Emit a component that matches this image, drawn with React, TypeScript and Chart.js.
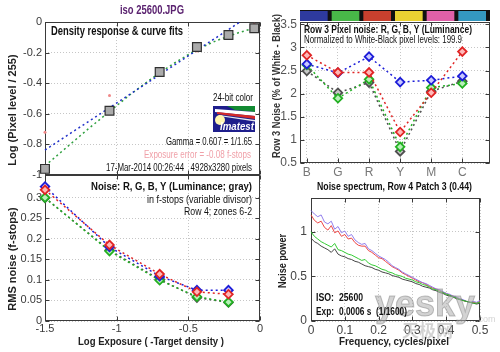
import React, { useEffect, useRef } from 'react';
import { Chart, registerables } from 'chart.js';

Chart.register(...registerables);

const W = 500;
const H = 352;
const FONT = '"Liberation Sans", Arial, Helvetica, sans-serif';

// ---------- Density response (top-left) ----------
const densityLogExposure = [-1.5, -1.05, -0.7, -0.44, -0.22, -0.04];
const densityLogPixel = [-0.96, -0.58, -0.327, -0.163, -0.085, -0.041];
const exposureMarkX = [-1.5, -1.05, -0.44, -0.04];
const exposureMarkY = [-0.72, -0.48, -0.19, -0.015];
const gammaFitX = [-1.5, -0.14];
const gammaFitY = [-0.837, 0];
const curveFitX = [-1.5, -1.35, -1.2, -1.05, -0.9, -0.75, -0.6, -0.45, -0.3, -0.15, -0.04];
const curveFitY = [-0.94, -0.82, -0.7, -0.585, -0.47, -0.365, -0.27, -0.185, -0.12, -0.07, -0.04];
const densityTicksY = [-1, -0.8, -0.6, -0.4, -0.2, 0];
const exposureTicks = [-1.5, -1, -0.5, 0];

// ---------- RMS noise in f-stops (bottom-left) ----------
const noiseLogExposure = [-1.5, -1.05, -0.7, -0.44, -0.22];
const noiseR = [0.319, 0.185, 0.114, 0.071, 0.065];
const noiseG = [0.3, 0.17, 0.099, 0.059, 0.046];
const noiseB = [0.327, 0.18, 0.109, 0.075, 0.075];
const noiseY = [0.299, 0.172, 0.101, 0.057, 0.045];
const noiseTicksY = [0, 0.05, 0.1, 0.15, 0.2, 0.25, 0.3];

// ---------- Row 3 pixel noise (top-right) ----------
const patchNames = ['B', 'G', 'R', 'Y', 'M', 'C'];
const patchSwatches = ['#2e3a9e', '#48b848', '#c8402e', '#ead232', '#e060a8', '#3498c0'];
const patchR = [2.83, 2.46, 2.46, 1.17, 2.02, 2.91];
const patchG = [2.62, 1.9, 2.31, 0.85, 2.13, 2.22];
const patchB = [2.64, 2.45, 2.8, 2.25, 2.29, 2.38];
const patchY = [2.49, 2.02, 2.24, 0.75, 2.05, 2.27];
const patchTicksY = [0.5, 1, 1.5, 2, 2.5, 3, 3.5];

// ---------- Noise spectrum (bottom-right) ----------
const spectrumFreq = [
  0, 0.01, 0.02, 0.03, 0.04, 0.05, 0.06, 0.07, 0.08, 0.09,
  0.1, 0.11, 0.12, 0.13, 0.14, 0.15, 0.16, 0.17, 0.18, 0.19,
  0.2, 0.21, 0.22, 0.23, 0.24, 0.25, 0.26, 0.27, 0.28, 0.29,
  0.3, 0.31, 0.32, 0.33, 0.34, 0.35, 0.36, 0.37, 0.38, 0.39,
  0.4, 0.41, 0.42, 0.43, 0.44, 0.45, 0.46, 0.47, 0.48, 0.49,
  0.5,
];
const spectrumB = [
  1.24, 1.2, 1.17, 1.19, 1.11, 1.09, 1.12, 1.03, 1.06, 0.99,
  1.01, 0.95, 0.97, 0.91, 0.88, 0.86, 0.87, 0.81, 0.79, 0.76,
  0.73, 0.71, 0.69, 0.66, 0.62, 0.6, 0.58, 0.55, 0.53, 0.51,
  0.49, 0.47, 0.45, 0.43, 0.42, 0.4, 0.38, 0.36, 0.35, 0.33,
  0.31, 0.3, 0.28, 0.27, 0.25, 0.24, 0.22, 0.21, 0.22, 0.21,
  0.23,
];
const spectrumR = [
  1.19, 1.13, 1.1, 1.12, 1.05, 1.02, 1.07, 0.99, 1.01, 0.95,
  0.97, 0.92, 0.93, 0.88, 0.85, 0.84, 0.84, 0.79, 0.77, 0.74,
  0.71, 0.7, 0.67, 0.64, 0.61, 0.59, 0.57, 0.54, 0.52, 0.5,
  0.48, 0.46, 0.44, 0.43, 0.41, 0.39, 0.37, 0.36, 0.34, 0.32,
  0.31, 0.29, 0.28, 0.26, 0.25, 0.23, 0.22, 0.21, 0.21, 0.2,
  0.22,
];
const spectrumG = [
  1.0, 0.95, 0.92, 0.89, 0.87, 0.85, 0.83, 0.87, 0.8, 0.79,
  0.77, 0.75, 0.74, 0.72, 0.7, 0.68, 0.69, 0.65, 0.63, 0.62,
  0.6, 0.58, 0.57, 0.55, 0.54, 0.52, 0.51, 0.5, 0.48, 0.47,
  0.46, 0.44, 0.43, 0.41, 0.4, 0.38, 0.36, 0.35, 0.33, 0.32,
  0.3, 0.29, 0.27, 0.26, 0.24, 0.23, 0.22, 0.21, 0.2, 0.2,
  0.21,
];
const spectrumY = [
  0.93, 0.89, 0.87, 0.84, 0.82, 0.8, 0.77, 0.81, 0.75, 0.73,
  0.72, 0.7, 0.69, 0.67, 0.66, 0.64, 0.62, 0.61, 0.6, 0.58,
  0.57, 0.55, 0.54, 0.53, 0.51, 0.5, 0.49, 0.47, 0.46, 0.45,
  0.44, 0.42, 0.41, 0.39, 0.38, 0.37, 0.35, 0.34, 0.32, 0.31,
  0.29, 0.28, 0.27, 0.25, 0.24, 0.23, 0.22, 0.21, 0.2, 0.19,
  0.2,
];
const spectrumTicksX = [0, 0.1, 0.2, 0.3, 0.4, 0.5];
const spectrumTicksY = [0, 0.5, 1];

// ---------- helpers ----------
const pts = (xs: number[], ys: number[]) => xs.map((x, i) => ({ x, y: ys[i] }));
const fixedTicks = (vals: number[]) => (s: any) => { s.ticks = vals.map((value) => ({ value })); };
const fmt = (v: any) => String(+Number(v).toFixed(3));

const RED = '#e02424';
const GREEN = '#22b022';
const BLUE = '#1c1cd8';
const GRAY = '#505050';

function area(left: number, top: number, right: number, bottom: number, yW: number, xH: number) {
  return { padding: { left: left - yW, top, right: W - right, bottom: H - bottom - xH } };
}

const grid = { color: '#c6c6c6', lineWidth: 1, drawTicks: false };
const border = { display: false, dash: [1, 2] };

type Txt = { t: string; x: number; y: number; f: string; c?: string; a?: CanvasTextAlign; w?: number; r?: boolean };

function drawTexts(ctx: CanvasRenderingContext2D, texts: Txt[]) {
  for (const it of texts) {
    ctx.save();
    ctx.font = it.f;
    ctx.fillStyle = it.c || '#111';
    ctx.textAlign = it.a || 'left';
    ctx.textBaseline = 'middle';
    ctx.translate(it.x, it.y);
    if (it.r) ctx.rotate(-Math.PI / 2);
    if (it.w) ctx.fillText(it.t, 0, 0, it.w);
    else ctx.fillText(it.t, 0, 0);
    ctx.restore();
  }
}

function decor(texts: Txt[], extra?: (ctx: CanvasRenderingContext2D, chart: any) => void) {
  return {
    id: 'decor',
    beforeDatasetsDraw(chart: any) {
      const { ctx, chartArea: a, scales } = chart;
      ctx.save();
      const l = Math.round(a.left) + 0.5;
      const t = Math.round(a.top) + 0.5;
      const r = Math.round(a.right) - 0.5;
      const b = Math.round(a.bottom) - 0.5;
      ctx.strokeStyle = '#3a3a3a';
      ctx.lineWidth = 1;
      ctx.setLineDash([]);
      ctx.strokeRect(l, t, r - l, b - t);
      ctx.beginPath();
      for (const tk of scales.x.ticks) {
        const p = Math.round(scales.x.getPixelForValue(tk.value)) + 0.5;
        ctx.moveTo(p, b); ctx.lineTo(p, b - 4);
        ctx.moveTo(p, t); ctx.lineTo(p, t + 4);
      }
      for (const tk of scales.y.ticks) {
        const p = Math.round(scales.y.getPixelForValue(tk.value)) + 0.5;
        ctx.moveTo(l, p); ctx.lineTo(l + 4, p);
        ctx.moveTo(r, p); ctx.lineTo(r - 4, p);
      }
      ctx.stroke();
      ctx.restore();
    },
    afterDraw(chart: any) {
      const ctx = chart.ctx as CanvasRenderingContext2D;
      ctx.save();
      if (extra) extra(ctx, chart);
      drawTexts(ctx, texts);
      ctx.restore();
    },
  };
}

const baseOptions = (layout: any, scales: any) => ({
  responsive: false,
  animation: false,
  events: [],
  layout,
  plugins: { legend: { display: false }, tooltip: { enabled: false } },
  scales,
});

const tickFont = { family: FONT, size: 11 };

const dotted = (color: string, data: any[], extra: any = {}) => ({
  data,
  showLine: true,
  borderColor: color,
  borderWidth: 1.5,
  borderDash: [2, 3],
  pointRadius: 0,
  clip: false,
  ...extra,
});

const diamonds = (color: string, fill: string, data: any[]) =>
  dotted(color, data, {
    pointStyle: 'rectRot',
    pointRadius: 4.3,
    pointBorderWidth: 1.8,
    pointBorderColor: color,
    pointBackgroundColor: fill,
  });

// ---------- chart configs ----------
function drawLogo(ctx: CanvasRenderingContext2D) {
  const x0 = 213, y0 = 106, w = 42, h = 26;
  ctx.fillStyle = '#1e1e8c';
  ctx.fillRect(x0, y0, w, h);
  ctx.fillStyle = '#128a32';
  ctx.beginPath(); ctx.moveTo(x0 + 14, y0); ctx.lineTo(x0 + w, y0); ctx.lineTo(x0 + w, y0 + 6); ctx.lineTo(x0 + 22, y0 + 4); ctx.closePath(); ctx.fill();
  ctx.fillStyle = '#ffffff';
  ctx.beginPath(); ctx.moveTo(x0 + 2, y0 + 3); ctx.lineTo(x0 + w, y0 + 6); ctx.lineTo(x0 + w, y0 + 10); ctx.lineTo(x0 + 2, y0 + 6); ctx.closePath(); ctx.fill();
  ctx.fillStyle = '#d42a2a';
  ctx.beginPath(); ctx.moveTo(x0 + 4, y0 + 6); ctx.lineTo(x0 + w, y0 + 10); ctx.lineTo(x0 + w, y0 + 13); ctx.lineTo(x0 + 4, y0 + 8); ctx.closePath(); ctx.fill();
  ctx.fillStyle = '#e8e8f0';
  ctx.beginPath(); ctx.moveTo(x0 + 6, y0 + 9); ctx.lineTo(x0 + w, y0 + 14); ctx.lineTo(x0 + w, y0 + 15.5); ctx.lineTo(x0 + 6, y0 + 10); ctx.closePath(); ctx.fill();
  ctx.fillStyle = '#fff6b0';
  ctx.beginPath(); ctx.arc(x0 + 7, y0 + 14, 5, 0, Math.PI * 2); ctx.fill();
  ctx.fillStyle = '#ffffff';
  ctx.font = `italic bold 10px ${FONT}`;
  ctx.textAlign = 'center';
  ctx.textBaseline = 'middle';
  ctx.fillText('Imatest', x0 + 24, y0 + 21, 34);
}

const densityConfig = () => ({
  type: 'scatter',
  data: {
    datasets: [
      {
        data: pts(densityLogExposure, densityLogPixel),
        showLine: false,
        pointStyle: 'rect',
        pointRadius: 6.2,
        pointBorderWidth: 1.2,
        pointBorderColor: '#303030',
        pointBackgroundColor: '#ababab',
        clip: false,
      },
      {
        data: pts(exposureMarkX, exposureMarkY),
        showLine: false,
        pointRadius: 1.5,
        pointBorderWidth: 0,
        pointBackgroundColor: '#f08888',
        clip: false,
      },
      dotted('#2030c8', pts(gammaFitX, gammaFitY)),
      dotted('#30a040', pts(curveFitX, curveFitY)),
    ],
  },
  options: baseOptions(area(45, 22, 260, 175, 40, 0), {
    x: {
      type: 'linear', min: -1.5, max: 0,
      ticks: { display: false },
      grid, border,
      afterBuildTicks: fixedTicks(exposureTicks),
      afterFit: (s: any) => { s.height = 0; },
    },
    y: {
      type: 'linear', min: -1, max: 0,
      ticks: { font: tickFont, color: '#3a3a3a', padding: 3, callback: fmt },
      grid, border,
      afterBuildTicks: fixedTicks(densityTicksY),
      afterFit: (s: any) => { s.width = 40; },
    },
  }),
  plugins: [
    decor(
      [
        { t: 'iso 25600.JPG', x: 152, y: 11, f: `bold 12px ${FONT}`, c: '#5b2370', a: 'center', w: 64 },
        { t: 'Density response & curve fits', x: 51, y: 32, f: `bold 12px ${FONT}`, w: 132 },
        { t: 'Log (Pixel level / 255)', x: 13, y: 110, f: `bold 11px ${FONT}`, c: '#222', a: 'center', w: 122, r: true },
        { t: '24-bit color', x: 253, y: 98, f: `10px ${FONT}`, a: 'right', w: 40 },
        { t: 'Gamma = 0.607 = 1/1.65', x: 252, y: 142, f: `10px ${FONT}`, a: 'right', w: 86 },
        { t: 'Exposure error = -0.08 f-stops', x: 251, y: 155, f: `10px ${FONT}`, c: '#f0a0a8', a: 'right', w: 107 },
        { t: '17-Mar-2014 00:26:44   4928x3280 pixels', x: 252, y: 168, f: `10px ${FONT}`, a: 'right', w: 146 },
      ],
      (ctx) => drawLogo(ctx)
    ),
  ],
});

const noiseConfig = () => ({
  type: 'scatter',
  data: {
    datasets: [
      diamonds(RED, '#ffb8b8', pts(noiseLogExposure, noiseR)),
      diamonds(BLUE, '#c8c8ff', pts(noiseLogExposure, noiseB)),
      diamonds(GREEN, '#b8f0b8', pts(noiseLogExposure, noiseG)),
      diamonds(GRAY, '#c8c8c8', pts(noiseLogExposure, noiseY)),
    ],
  },
  options: baseOptions(area(45, 175, 260, 321, 40, 20), {
    x: {
      type: 'linear', min: -1.5, max: 0,
      ticks: { font: tickFont, color: '#3a3a3a', padding: 1, callback: fmt },
      grid, border,
      afterBuildTicks: fixedTicks(exposureTicks),
      afterFit: (s: any) => { s.height = 20; },
    },
    y: {
      type: 'linear', min: 0, max: 0.355,
      ticks: { font: tickFont, color: '#3a3a3a', padding: 3, callback: fmt },
      grid, border,
      afterBuildTicks: fixedTicks(noiseTicksY),
      afterFit: (s: any) => { s.width = 40; },
    },
  }),
  plugins: [
    decor([
      { t: 'Noise: R, G, B, Y (Luminance; gray)', x: 252, y: 187, f: `bold 11px ${FONT}`, a: 'right', w: 161 },
      { t: 'in f-stops (variable divisor)', x: 252, y: 200.5, f: `10px ${FONT}`, a: 'right', w: 105 },
      { t: 'Row 4; zones 6-2', x: 252, y: 212, f: `10px ${FONT}`, a: 'right', w: 68 },
      { t: 'RMS noise (f-stops)', x: 13, y: 259, f: `bold 11px ${FONT}`, c: '#222', a: 'center', w: 115, r: true },
      { t: 'Log Exposure ( -Target density )', x: 151, y: 342, f: `bold 11px ${FONT}`, c: '#222', a: 'center', w: 146 },
    ]),
  ],
});

const patchX = patchNames.map((_, i) => i + 1);

const patchConfig = () => ({
  type: 'scatter',
  data: {
    datasets: [
      diamonds(RED, '#ffb8b8', pts(patchX, patchR)),
      diamonds(BLUE, '#c8c8ff', pts(patchX, patchB)),
      diamonds(GREEN, '#b8f0b8', pts(patchX, patchG)),
      diamonds(GRAY, '#c8c8c8', pts(patchX, patchY)),
    ],
  },
  options: baseOptions(area(300, 22, 490, 163, 30, 15), {
    x: {
      type: 'linear', min: 0.78, max: 6.89,
      ticks: {
        font: { family: FONT, size: 12 }, color: '#777', padding: 2,
        callback: (v: any) => patchNames[Math.round(Number(v)) - 1] ?? '',
      },
      grid, border,
      afterBuildTicks: fixedTicks(patchX),
      afterFit: (s: any) => { s.height = 15; },
    },
    y: {
      type: 'linear', min: 0.5, max: 3.55,
      ticks: { font: { family: FONT, size: 12 }, color: '#555', padding: 3, callback: fmt },
      grid, border,
      afterBuildTicks: fixedTicks(patchTicksY),
      afterFit: (s: any) => { s.width = 30; },
    },
  }),
  plugins: [
    decor(
      [
        { t: 'Row 3 Pixel noise: R, G, B, Y (Luminance)', x: 304, y: 29.5, f: `bold 11px ${FONT}`, w: 168 },
        { t: 'Normalized to White-Black pixel levels: 199.9', x: 304, y: 40.5, f: `10px ${FONT}`, w: 158 },
        { t: 'Row 3 Noise (% of White - Black)', x: 277, y: 86, f: `bold 11px ${FONT}`, c: '#333', a: 'center', w: 144, r: true },
      ],
      (ctx, chart) => {
        const a = chart.chartArea;
        const segW = (a.right - a.left) / patchSwatches.length;
        ctx.fillStyle = '#111';
        ctx.fillRect(a.left, 10, a.right - a.left, 11);
        patchSwatches.forEach((c, i) => {
          ctx.fillStyle = c;
          ctx.fillRect(a.left + i * segW, 11, segW - 4, 10);
        });
      }
    ),
  ],
});

const spectrumConfig = () => ({
  type: 'scatter',
  data: {
    datasets: [
      dotted('rgba(40,200,40,0.95)', pts(spectrumFreq, spectrumG), { borderDash: [], borderWidth: 1 }),
      dotted('rgba(60,60,60,0.95)', pts(spectrumFreq, spectrumY), { borderDash: [], borderWidth: 1 }),
      dotted('rgba(140,120,235,0.95)', pts(spectrumFreq, spectrumB), { borderDash: [], borderWidth: 1 }),
      dotted('rgba(235,60,60,0.95)', pts(spectrumFreq, spectrumR), { borderDash: [], borderWidth: 1 }),
    ],
  },
  options: baseOptions(area(311, 198, 480, 321, 30, 15), {
    x: {
      type: 'linear', min: 0, max: 0.5,
      ticks: { font: { family: FONT, size: 12 }, color: '#444', padding: 2, callback: fmt },
      grid, border,
      afterBuildTicks: fixedTicks(spectrumTicksX),
      afterFit: (s: any) => { s.height = 15; },
    },
    y: {
      type: 'linear', min: 0, max: 1.38,
      ticks: { font: { family: FONT, size: 12 }, color: '#444', padding: 4, callback: fmt },
      grid, border,
      afterBuildTicks: fixedTicks(spectrumTicksY),
      afterFit: (s: any) => { s.width = 30; },
    },
  }),
  plugins: [
    decor(
      [
        { t: 'Noise spectrum, Row 4 Patch 3 (0.44)', x: 394.5, y: 187, f: `bold 11px ${FONT}`, a: 'center', w: 155 },
        { t: 'Noise power', x: 283, y: 261, f: `bold 11px ${FONT}`, c: '#222', a: 'center', w: 54, r: true },
        { t: 'Frequency, cycles/pixel', x: 394, y: 342, f: `bold 11px ${FONT}`, c: '#222', a: 'center', w: 110 },
        { t: 'ISO:', x: 316, y: 298, f: `bold 10px ${FONT}`, w: 18 },
        { t: '25600', x: 339, y: 298, f: `bold 10px ${FONT}`, w: 24 },
        { t: 'Exp:', x: 316, y: 312, f: `bold 10px ${FONT}`, w: 18 },
        { t: '0.0006 s  (1/1600)', x: 339, y: 312, f: `bold 10px ${FONT}`, w: 68 },
      ],
      (ctx) => {
        ctx.fillStyle = 'rgba(175,175,175,0.55)';
        ctx.strokeStyle = 'rgba(120,120,120,0.45)';
        ctx.lineWidth = 1;
        ctx.textAlign = 'left';
        ctx.textBaseline = 'alphabetic';
        ctx.font = `bold 36px ${FONT}`;
        ctx.fillText('yesky', 375, 316, 100);
        ctx.strokeText('yesky', 375, 316, 100);
        ctx.font = `9px ${FONT}`;
        ctx.fillText('.com', 476, 322);
        ctx.font = `bold 17px "Noto Sans CJK SC", sans-serif`;
        ctx.fillText('天极网', 402, 337, 56);
      }
    ),
  ],
});

function ChartCanvas({ make }: { make: () => any }) {
  const ref = useRef<HTMLCanvasElement>(null);
  useEffect(() => {
    const chart = new Chart(ref.current as HTMLCanvasElement, make());
    return () => chart.destroy();
  }, []);
  return (
    <canvas
      ref={ref}
      width={W}
      height={H}
      style={{ position: 'absolute', left: 0, top: 0, width: W, height: H }}
    />
  );
}

export default function App() {
  useEffect(() => {
    document.body.style.margin = '0';
  }, []);
  return (
    <div style={{ position: 'absolute', left: 0, top: 0, width: W, height: H, background: '#fff', overflow: 'hidden' }}>
      <ChartCanvas make={densityConfig} />
      <ChartCanvas make={noiseConfig} />
      <ChartCanvas make={patchConfig} />
      <ChartCanvas make={spectrumConfig} />
    </div>
  );
}
